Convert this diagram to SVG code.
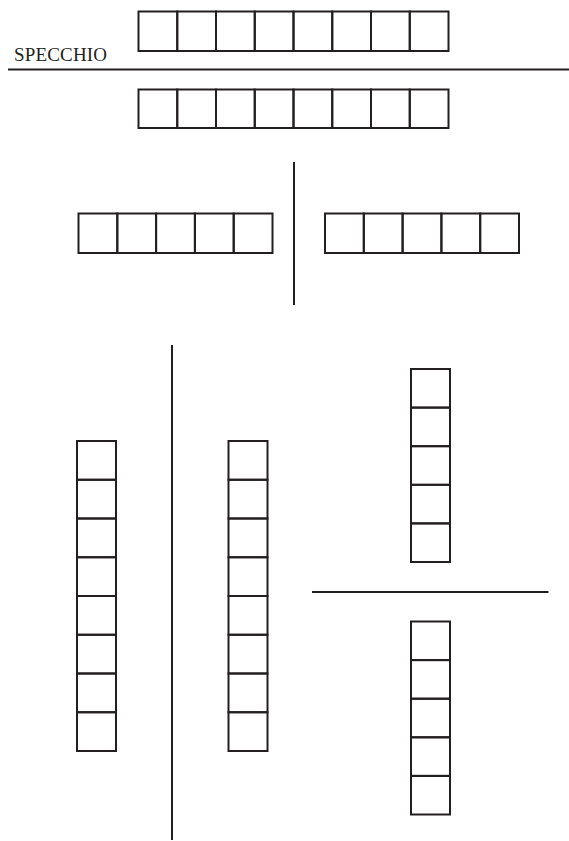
<svg xmlns="http://www.w3.org/2000/svg" width="569" height="841" viewBox="0 0 569 841">
<style>
.c{fill:none;stroke:#231f20;stroke-width:2}
.l{stroke:#231f20;stroke-width:2;fill:none}
.t{font-family:"Liberation Serif",serif;font-size:19px;fill:#231f20}
</style>
<rect width="569" height="841" fill="#fff"/>
<text class="t" x="14" y="61" textLength="93">SPECCHIO</text>
<g id="lines">
<line class="l" x1="8" y1="69.5" x2="569" y2="69.5"/>
<line class="l" x1="294" y1="162" x2="294" y2="305"/>
<line class="l" x1="172" y1="345" x2="172" y2="840"/>
<line class="l" x1="312" y1="592" x2="548.5" y2="592"/>
</g>
<g id="row-top">
<rect class="c" x="138.5" y="11.5" width="38.75" height="39.5"/>
<rect class="c" x="177.25" y="11.5" width="38.75" height="39.5"/>
<rect class="c" x="216" y="11.5" width="38.75" height="39.5"/>
<rect class="c" x="254.75" y="11.5" width="38.75" height="39.5"/>
<rect class="c" x="293.5" y="11.5" width="38.75" height="39.5"/>
<rect class="c" x="332.25" y="11.5" width="38.75" height="39.5"/>
<rect class="c" x="371" y="11.5" width="38.75" height="39.5"/>
<rect class="c" x="409.75" y="11.5" width="38.75" height="39.5"/>
</g>
<g id="row-mirror">
<rect class="c" x="138.5" y="89.5" width="38.75" height="38.5"/>
<rect class="c" x="177.25" y="89.5" width="38.75" height="38.5"/>
<rect class="c" x="216" y="89.5" width="38.75" height="38.5"/>
<rect class="c" x="254.75" y="89.5" width="38.75" height="38.5"/>
<rect class="c" x="293.5" y="89.5" width="38.75" height="38.5"/>
<rect class="c" x="332.25" y="89.5" width="38.75" height="38.5"/>
<rect class="c" x="371" y="89.5" width="38.75" height="38.5"/>
<rect class="c" x="409.75" y="89.5" width="38.75" height="38.5"/>
</g>
<g id="row-mid-left">
<rect class="c" x="78.5" y="213.5" width="38.8" height="39.5"/>
<rect class="c" x="117.3" y="213.5" width="38.8" height="39.5"/>
<rect class="c" x="156.1" y="213.5" width="38.8" height="39.5"/>
<rect class="c" x="194.9" y="213.5" width="38.8" height="39.5"/>
<rect class="c" x="233.7" y="213.5" width="38.8" height="39.5"/>
</g>
<g id="row-mid-right">
<rect class="c" x="325" y="213.5" width="38.8" height="39.5"/>
<rect class="c" x="363.8" y="213.5" width="38.8" height="39.5"/>
<rect class="c" x="402.6" y="213.5" width="38.8" height="39.5"/>
<rect class="c" x="441.4" y="213.5" width="38.8" height="39.5"/>
<rect class="c" x="480.2" y="213.5" width="38.8" height="39.5"/>
</g>
<g id="col-left">
<rect class="c" x="77" y="441" width="39" height="38.75"/>
<rect class="c" x="77" y="479.75" width="39" height="38.75"/>
<rect class="c" x="77" y="518.5" width="39" height="38.75"/>
<rect class="c" x="77" y="557.25" width="39" height="38.75"/>
<rect class="c" x="77" y="596" width="39" height="38.75"/>
<rect class="c" x="77" y="634.75" width="39" height="38.75"/>
<rect class="c" x="77" y="673.5" width="39" height="38.75"/>
<rect class="c" x="77" y="712.25" width="39" height="38.75"/>
</g>
<g id="col-mirror">
<rect class="c" x="228.5" y="441" width="39" height="38.75"/>
<rect class="c" x="228.5" y="479.75" width="39" height="38.75"/>
<rect class="c" x="228.5" y="518.5" width="39" height="38.75"/>
<rect class="c" x="228.5" y="557.25" width="39" height="38.75"/>
<rect class="c" x="228.5" y="596" width="39" height="38.75"/>
<rect class="c" x="228.5" y="634.75" width="39" height="38.75"/>
<rect class="c" x="228.5" y="673.5" width="39" height="38.75"/>
<rect class="c" x="228.5" y="712.25" width="39" height="38.75"/>
</g>
<g id="col-right-top">
<rect class="c" x="411" y="369" width="39" height="38.6"/>
<rect class="c" x="411" y="407.6" width="39" height="38.6"/>
<rect class="c" x="411" y="446.2" width="39" height="38.6"/>
<rect class="c" x="411" y="484.8" width="39" height="38.6"/>
<rect class="c" x="411" y="523.4" width="39" height="38.6"/>
</g>
<g id="col-right-bottom">
<rect class="c" x="411" y="621.5" width="39" height="38.6"/>
<rect class="c" x="411" y="660.1" width="39" height="38.6"/>
<rect class="c" x="411" y="698.7" width="39" height="38.6"/>
<rect class="c" x="411" y="737.3" width="39" height="38.6"/>
<rect class="c" x="411" y="775.9" width="39" height="38.6"/>
</g>
</svg>
